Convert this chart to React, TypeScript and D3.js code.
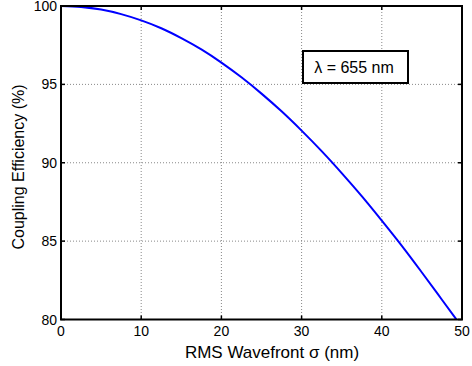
import React from "react";
import * as d3 from "d3";

// RMS wavefront error (nm) and resulting coupling efficiency (%)
const sigmaNm = [0, 2.5, 5, 7.5, 10, 12.5, 15, 17.5, 20, 22.5, 25, 27.5, 30, 32.5, 35, 37.5, 40, 42.5, 45, 47.5, 49.3];
const efficiency = [100, 99.94, 99.77, 99.48, 99.08, 98.58, 97.95, 97.23, 96.39, 95.45, 94.41, 93.28, 92.05, 90.74, 89.34, 87.87, 86.31, 84.70, 83.0, 81.26, 80.0];
const xTicks = [0, 10, 20, 30, 40, 50];
const yTicks = [80, 85, 90, 95, 100];
const legendText = "λ = 655 nm";

const W = 472;
const H = 366;
const left = 61;
const right = 462;
const top = 6;
const bottom = 319.5;
const font = "'Liberation Sans', Arial, Helvetica, sans-serif";

export default function App() {
  const x = d3.scaleLinear().domain([0, 50]).range([left, right]);
  const y = d3.scaleLinear().domain([80, 100]).range([bottom, top]);
  const pts = sigmaNm.map((s, i) => [s, efficiency[i]] as [number, number]);
  const line = d3
    .line<[number, number]>()
    .x((d) => x(d[0]))
    .y((d) => y(d[1]))
    .curve(d3.curveMonotoneX);

  return (
    <svg
      width={W}
      height={H}
      style={{ position: "absolute", left: 0, top: 0, background: "#fff" }}
      fontFamily={font}
    >
      <defs>
        <clipPath id="plot">
          <rect x={left} y={top} width={right - left} height={bottom - top} />
        </clipPath>
      </defs>
      {/* grid */}
      {xTicks.slice(1, -1).map((t) => (
        <line key={"gx" + t} x1={x(t)} x2={x(t)} y1={top} y2={bottom} stroke="#888" strokeWidth={1} strokeDasharray="1,2" />
      ))}
      {yTicks.slice(1, -1).map((t) => (
        <line key={"gy" + t} x1={left} x2={right} y1={y(t)} y2={y(t)} stroke="#888" strokeWidth={1} strokeDasharray="1,2" />
      ))}
      {/* curve */}
      <path d={line(pts) || ""} fill="none" stroke="#0000ff" strokeWidth={2} clipPath="url(#plot)" />
      {/* ticks */}
      {xTicks.map((t) => (
        <g key={"tx" + t}>
          <line x1={x(t)} x2={x(t)} y1={bottom} y2={bottom - 4} stroke="#000" strokeWidth={1.5} />
          <line x1={x(t)} x2={x(t)} y1={top} y2={top + 4} stroke="#000" strokeWidth={1.5} />
          <text x={x(t)} y={336} fontSize={14} textAnchor="middle" fill="#000">
            {t}
          </text>
        </g>
      ))}
      {yTicks.map((t) => (
        <g key={"ty" + t}>
          <line x1={left} x2={left + 4} y1={y(t)} y2={y(t)} stroke="#000" strokeWidth={1.5} />
          <line x1={right} x2={right - 4} y1={y(t)} y2={y(t)} stroke="#000" strokeWidth={1.5} />
          <text x={left - 4} y={y(t) + 5} fontSize={14} textAnchor="end" fill="#000">
            {t}
          </text>
        </g>
      ))}
      {/* frame */}
      <rect x={left} y={top} width={right - left} height={bottom - top} fill="none" stroke="#000" strokeWidth={2} />
      {/* legend box */}
      <rect x={303} y={51} width={105} height={32} fill="#fff" stroke="#000" strokeWidth={2} />
      <text x={354} y={72.5} fontSize={16} textAnchor="middle" fill="#000">
        {legendText}
      </text>
      {/* axis labels */}
      <text x={272} y={357.5} fontSize={17} textAnchor="middle" fill="#000">
        RMS Wavefront σ (nm)
      </text>
      <text
        transform={`translate(24, 167) rotate(-90)`}
        fontSize={16}
        textAnchor="middle"
        fill="#000"
      >
        Coupling Efficiency (%)
      </text>
    </svg>
  );
}
